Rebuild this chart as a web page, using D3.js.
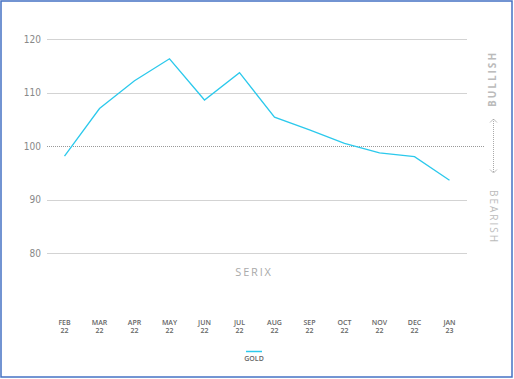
<!DOCTYPE html>
<html><head><meta charset="utf-8">
<script src="https://cdn.jsdelivr.net/npm/d3@7"></script>
<style>html,body{margin:0;padding:0;background:#fff}svg{display:block}</style>
</head><body>
<svg id="c" width="514" height="379"></svg>
<script>
const months = ["FEB","MAR","APR","MAY","JUN","JUL","AUG","SEP","OCT","NOV","DEC","JAN"];
const years  = ["22","22","22","22","22","22","22","22","22","22","22","23"];
const gold   = [98.1,107.0,112.2,116.3,108.6,113.7,105.4,103.0,100.5,98.7,98.0,93.6];
const yTicks = [80,90,100,110,120];
const seriesName = "GOLD";

const svg = d3.select("#c");
svg.append("rect").attr("x",1).attr("y",1).attr("width",511).attr("height",376)
  .attr("fill","#fff").attr("stroke","#4472c4").attr("stroke-width",1.5);

const x = d3.scaleBand().domain(months.map((m,i)=>i)).range([47,467]);
const y = d3.scaleLinear().domain([80,120]).range([253,39]);
const cx = i => x(i) + x.bandwidth()/2;

// gridlines
const g = svg.append("g");
yTicks.forEach(t=>{
  const isBase = t===100;
  g.append("line").attr("x1",47).attr("x2",isBase?485:467)
    .attr("y1",Math.round(y(t))+0.5).attr("y2",Math.round(y(t))+0.5)
    .attr("stroke",isBase?"#999":"#d3d3d3").attr("stroke-width",isBase?1:1.2)
    .attr("stroke-dasharray",isBase?"1,1":null);
  g.append("text").attr("x",41).attr("y",y(t)+3.5).attr("text-anchor","end")
    .attr("font-family","'Liberation Sans Narrow','DejaVu Sans Condensed',sans-serif")
    .attr("font-size",10).attr("fill","#888").text(t);
});

// line
svg.append("path").datum(gold)
  .attr("d", d3.line().x((d,i)=>cx(i)).y(d=>y(d)))
  .attr("fill","none").attr("stroke","#2cc9ec").attr("stroke-width",1.3);

// x labels
const xl = svg.append("g").attr("font-family","'Open Sans',sans-serif")
  .attr("font-size",7).attr("font-weight","600").attr("fill","#666").attr("text-anchor","middle");
months.forEach((m,i)=>{
  xl.append("text").attr("x",cx(i)).attr("y",325).text(m);
  xl.append("text").attr("x",cx(i)).attr("y",333).text(years[i]);
});

// SERIX
svg.append("text").attr("x",254).attr("y",276).attr("text-anchor","middle")
  .attr("font-family","'Open Sans',sans-serif").attr("font-size",11)
  .attr("letter-spacing",1.8).attr("fill","#aaa").text("SERIX");

// legend
svg.append("line").attr("x1",246).attr("x2",262).attr("y1",351.5).attr("y2",351.5)
  .attr("stroke","#2cc9ec").attr("stroke-width",1.5);
svg.append("text").attr("x",254).attr("y",361).attr("text-anchor","middle")
  .attr("font-family","'Open Sans',sans-serif").attr("font-size",7)
  .attr("font-weight","600").attr("fill","#666").text(seriesName);

// right side
svg.append("text").attr("transform","translate(496,79) rotate(-90)")
  .attr("text-anchor","middle").attr("font-family","'Open Sans',sans-serif")
  .attr("font-size",10).attr("font-weight","700").attr("letter-spacing",2)
  .attr("fill","#bbb").text("BULLISH");
svg.append("text").attr("transform","translate(490,217) rotate(90)")
  .attr("text-anchor","middle").attr("font-family","'Open Sans',sans-serif")
  .attr("font-size",10).attr("letter-spacing",2)
  .attr("fill","#bbb").text("BEARISH");
const ax = 493.5;
svg.append("line").attr("x1",ax).attr("x2",ax).attr("y1",119).attr("y2",173)
  .attr("stroke","#aaa").attr("stroke-dasharray","1,1");
svg.append("path").attr("d",`M${ax-3.5},${122.5}L${ax},${119}L${ax+3.5},${122.5}`)
  .attr("fill","none").attr("stroke","#aaa").attr("stroke-width",0.8);
svg.append("path").attr("d",`M${ax-3.5},${169.5}L${ax},${173}L${ax+3.5},${169.5}`)
  .attr("fill","none").attr("stroke","#aaa").attr("stroke-width",0.8);
</script>
</body></html>
